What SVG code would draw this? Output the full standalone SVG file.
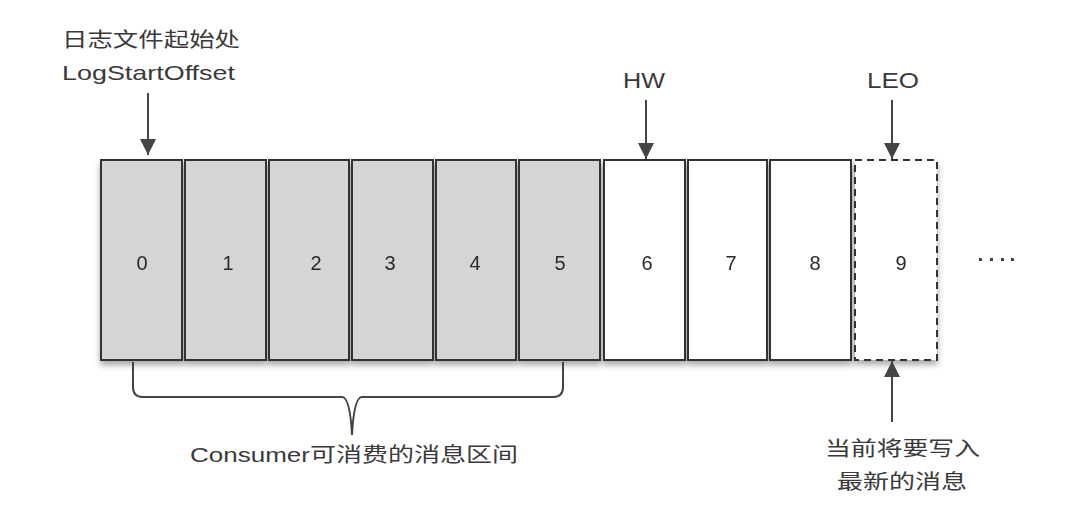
<svg xmlns="http://www.w3.org/2000/svg" width="1081" height="511" viewBox="0 0 1081 511">
  <defs>
    <style>
      .lbl { font-family: "Liberation Sans", Arial, "Noto Sans CJK SC", sans-serif; fill: #3a3a3a; }
      .num { font-family: "Liberation Sans", Arial, sans-serif; font-size: 20px; fill: #2a2a2a; text-anchor: middle; }
      .cell { stroke: #333; stroke-width: 2; }
      .used { fill: #d5d5d5; }
      .free { fill: #ffffff; }
      .dash { fill: #ffffff; stroke: #333; stroke-width: 2; stroke-dasharray: 7 5; }
      .conn { stroke: #444; stroke-width: 2; fill: none; }
    </style>
    <marker id="arr" viewBox="0 0 10 10" refX="10" refY="5" markerWidth="8" markerHeight="8" markerUnits="userSpaceOnUse" orient="auto">
      <path d="M0,0 L10,5 L0,10 z" fill="#444"/>
    </marker>
    <marker id="arrL" viewBox="0 0 10 10" refX="10" refY="5" markerWidth="16" markerHeight="16" markerUnits="userSpaceOnUse" orient="auto">
      <path d="M0,0 L10,5 L0,10 z" fill="#444"/>
    </marker>
    <filter id="sh" x="-10%" y="-10%" width="120%" height="130%">
      <feGaussianBlur in="SourceAlpha" stdDeviation="3"/>
      <feOffset dx="0" dy="4" result="b"/>
      <feComponentTransfer><feFuncA type="linear" slope="0.35"/></feComponentTransfer>
      <feMerge><feMergeNode/><feMergeNode in="SourceGraphic"/></feMerge>
    </filter>
  </defs>
  <rect width="1081" height="511" fill="#ffffff"/>

  <g id="cells" filter="url(#sh)">
    <g id="cell-0"><rect class="cell used" x="101" y="160" width="81" height="200"/><text class="num" x="142" y="270">0</text></g>
    <g id="cell-1"><rect class="cell used" x="185" y="160" width="81" height="200"/><text class="num" x="228" y="270">1</text></g>
    <g id="cell-2"><rect class="cell used" x="269" y="160" width="80" height="200"/><text class="num" x="316" y="270">2</text></g>
    <g id="cell-3"><rect class="cell used" x="352" y="160" width="81" height="200"/><text class="num" x="390" y="270">3</text></g>
    <g id="cell-4"><rect class="cell used" x="436" y="160" width="80" height="200"/><text class="num" x="475" y="270">4</text></g>
    <g id="cell-5"><rect class="cell used" x="519" y="160" width="81" height="200"/><text class="num" x="560" y="270">5</text></g>
    <g id="cell-6"><rect class="cell free" x="604" y="160" width="81" height="200"/><text class="num" x="647" y="270">6</text></g>
    <g id="cell-7"><rect class="cell free" x="688" y="160" width="79" height="200"/><text class="num" x="731" y="270">7</text></g>
    <g id="cell-8"><rect class="cell free" x="770" y="160" width="81" height="200"/><text class="num" x="815" y="270">8</text></g>
    <g id="cell-9"><rect class="dash" x="855" y="160" width="82" height="200"/><text class="num" x="901" y="270">9</text></g>
  </g>

  <g id="ellipsis" fill="#444">
    <rect x="979" y="258" width="3" height="3"/>
    <rect x="990" y="258" width="3" height="3"/>
    <rect x="1001" y="258" width="3" height="3"/>
    <rect x="1011" y="258" width="3" height="3"/>
  </g>

  <g id="label-start">
    <text class="lbl" x="62" y="47" font-size="20" textLength="178" lengthAdjust="spacingAndGlyphs">日志文件起始处</text>
    <text class="lbl" x="62" y="80" font-size="21" textLength="173" lengthAdjust="spacingAndGlyphs">LogStartOffset</text>
  </g>
  <g id="label-hw"><text class="lbl" x="623" y="88" font-size="22" textLength="42" lengthAdjust="spacingAndGlyphs">HW</text></g>
  <g id="label-leo"><text class="lbl" x="867" y="88" font-size="22" textLength="52" lengthAdjust="spacingAndGlyphs">LEO</text></g>
  <g id="label-consumer"><text class="lbl" x="190" y="462" font-size="20" textLength="328" lengthAdjust="spacingAndGlyphs">Consumer可消费的消息区间</text></g>
  <g id="label-new">
    <text class="lbl" x="825" y="456" font-size="20" textLength="155" lengthAdjust="spacingAndGlyphs">当前将要写入</text>
    <text class="lbl" x="837" y="489" font-size="20" textLength="130" lengthAdjust="spacingAndGlyphs">最新的消息</text>
  </g>

  <g id="connectors">
    <line class="conn" x1="148" y1="93" x2="148" y2="155" marker-end="url(#arrL)"/>
    <line class="conn" x1="646" y1="100" x2="646" y2="159" marker-end="url(#arrL)"/>
    <line class="conn" x1="892" y1="100" x2="892" y2="159" marker-end="url(#arrL)"/>
    <line class="conn" x1="892" y1="422" x2="892" y2="361" marker-end="url(#arrL)"/>
    <path class="conn" d="M133,362 L133,387 Q133,397 143,397 L342,397 Q350,397 352,435 Q354,397 362,397 L553,397 Q563,397 563,387 L563,362"/>
  </g>
</svg>
